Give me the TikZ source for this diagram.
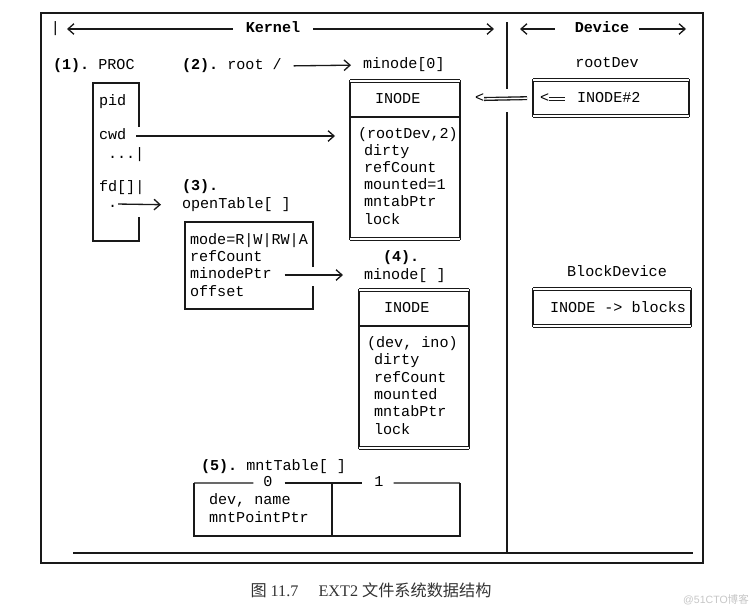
\documentclass[tikz,border=0pt]{standalone}
\usepackage{fontspec}
\setmainfont{Liberation Serif}
\setmonofont{Liberation Mono}
\newfontfamily\cjk{Noto Sans CJK SC}
\newfontfamily\wmsans{Liberation Sans}
\usetikzlibrary{arrows.meta}
\begin{document}
\begin{tikzpicture}[x=0.02cm,y=-0.02cm,
  every node/.style={inner sep=0pt, outer sep=0pt},
  tt/.style={font=\ttfamily\fontsize{8.6}{10}\selectfont, text height=6pt, text depth=2pt, anchor=west, text=black},
  ttb/.style={tt, font=\ttfamily\bfseries\fontsize{8.6}{10}\selectfont},
  ln/.style={line width=0.75pt, draw=black!90},
  asc/.style={ln, -{Straight Barb[length=3.4pt,width=6pt,line width=0.75pt]}},
  dbl/.style={draw=black!90, line width=0.75pt, double=white, double distance=0.8pt},
  boxn/.style={draw=none, anchor=center},
]
\useasboundingbox (0,0) rectangle (750,610);
\fill[white] (0,0) rectangle (750,610);

% outer frame and bottom rule
\draw[ln] (41,13) rectangle (703,563);
\coordinate (bl) at (73,553);
\coordinate (br) at (693,553);
\draw[ln] (bl) -- (br);

% divider
\coordinate (dv1) at (507,22);
\coordinate (dv2) at (507,89);
\coordinate (dv3) at (507,112);
\coordinate (dv4) at (507,553);
\draw[ln] (dv1) -- (dv2);
\draw[ln] (dv3) -- (dv4);

% top bar
\node[tt] (bar) at (51,29) {|};
\node[ttb, anchor=center] (kernel) at (273,29) {Kernel};
\coordinate (kl) at (67,29);
\coordinate (kr) at (494,29);
\draw[asc, shorten <=13*0.02cm] (kernel.west) -- (kl);
\draw[asc, shorten <=13*0.02cm] (kernel.east) -- (kr);
\node[ttb, anchor=center] (device) at (602,29) {Device};
\coordinate (dl) at (520,29);
\coordinate (dr) at (686,29);
\draw[asc, shorten <=20*0.02cm] (device.west) -- (dl);
\draw[asc, shorten <=10*0.02cm] (device.east) -- (dr);

% (1) PROC
\node[tt] (proclbl) at (53,66) {\textbf{(1).} PROC};
\node[boxn, minimum width=0.92cm, minimum height=3.16cm] (proc) at (116,162) {};
\draw[ln] (proc.north east) ++(0,44) -- (proc.north east) -- (proc.north west) -- (proc.south west) -- (proc.south east) -- ++(0,-24);
\node[tt] (pid) at (99,102) {pid};
\node[tt] (cwd) at (99,136) {cwd};
\node[tt] (dots) at (108,155) {...|};
\node[tt] (fd) at (99,188) {fd[]|};
\node[tt] (dot) at (108,204) {.};

% (2) root
\node[tt] (root) at (182,66) {\textbf{(2).} root /};
\node[tt] (mn0lbl) at (363,65) {minode[0]};
\draw[asc, shorten <=12*0.02cm, shorten >=12*0.02cm] (root.east) -- (mn0lbl.west);

% minode[0]
\node[boxn, draw, line width=0.75pt, draw=black!90, minimum width=2.2cm, minimum height=3.16cm] (mn0) at (405,160) {};
\draw[dbl] (mn0.north west) -- (mn0.north east);
\draw[dbl] (mn0.south west) -- (mn0.south east);
\draw[ln] (mn0.north west) ++(0,36) -- ++(110,0);
\node[tt] (mn0h) at (375,100) {INODE};
\node[tt] (m0a) at (358,135) {(rootDev,2)};
\node[tt] (m0b) at (364,152) {dirty};
\node[tt] (m0c) at (364,169) {refCount};
\node[tt] (m0d) at (364,186) {mounted=1};
\node[tt] (m0e) at (364,203) {mntabPtr};
\node[tt] (m0f) at (364,221) {lock};
\draw[asc, shorten <=10*0.02cm, shorten >=15*0.02cm] (cwd.east) -- (cwd.east -| mn0.west);

% rootDev
\node[tt, anchor=center] (rdlbl) at (607,64) {rootDev};
\node[boxn, draw, line width=0.75pt, draw=black!90, minimum width=3.12cm, minimum height=0.72cm] (rd) at (611,98) {};
\draw[dbl] (rd.north west) -- (rd.north east);
\draw[dbl] (rd.south west) -- (rd.south east);
\node[tt] (lt2) at (540,99) {<};
\node[tt] (ino2) at (577,99) {INODE\#2};
\draw[dbl, shorten >=12*0.02cm] (lt2.east) -- (ino2.west);
\node[tt] (lt1) at (475,99) {<};
\draw[dbl, shorten >=6*0.02cm] (lt1.east) -- (rd.west);

% (3) openTable
\node[ttb] (otnum) at (182,187) {(3).};
\node[tt] (otlbl) at (182,205) {openTable[ ]};
\draw[asc, shorten <=1*0.02cm, shorten >=21*0.02cm] (dot.east) -- (otlbl.west);
\node[boxn, minimum width=2.56cm, minimum height=1.74cm] (ot) at (249,265.5) {};
\draw[ln] (ot.north east) ++(0,45) -- (ot.north east) -- (ot.north west) -- (ot.south west) -- (ot.south east) -- ++(0,-23);
\node[tt] (ota) at (190,241) {mode=R|W|RW|A};
\node[tt] (otb) at (190,258) {refCount};
\node[tt] (otc) at (190,275) {minodePtr};
\node[tt] (otd) at (190,293) {offset};

% (4) minode[ ]
\node[ttb] (mnnum) at (383,258) {(4).};
\node[tt] (mnlbl) at (364,276) {minode[ ]};
\draw[asc, shorten <=13*0.02cm, shorten >=21*0.02cm] (otc.east) -- (otc.east -| mnlbl.west);
\node[boxn, draw, line width=0.75pt, draw=black!90, minimum width=2.2cm, minimum height=3.16cm] (mn) at (414,369) {};
\draw[dbl] (mn.north west) -- (mn.north east);
\draw[dbl] (mn.south west) -- (mn.south east);
\draw[ln] (mn.north west) ++(0,36) -- ++(110,0);
\node[tt] (mnh) at (384,309) {INODE};
\node[tt] (m1a) at (367,344) {(dev, ino)};
\node[tt] (m1b) at (374,361) {dirty};
\node[tt] (m1c) at (374,379) {refCount};
\node[tt] (m1d) at (374,396) {mounted};
\node[tt] (m1e) at (374,413) {mntabPtr};
\node[tt] (m1f) at (374,431) {lock};

% BlockDevice
\node[tt, anchor=center] (bdlbl) at (617,273) {BlockDevice};
\node[boxn, draw, line width=0.75pt, draw=black!90, minimum width=3.16cm, minimum height=0.74cm] (bd) at (612,307.5) {};
\draw[dbl] (bd.north west) -- (bd.north east);
\draw[dbl] (bd.south west) -- (bd.south east);
\node[tt] (bdt) at (550,309) {INODE -> blocks};

% (5) mntTable
\node[tt] (mtlbl) at (201,467) {\textbf{(5).} mntTable[ ]};
\node[boxn, minimum width=5.32cm, minimum height=1.06cm] (mt) at (327,509.5) {};
\node[tt, anchor=center] (mt0) at (268,483) {0};
\node[tt, anchor=center] (mt1) at (379,483) {1};
\draw[ln] (mt.north west) -- (mt.south west) -- (mt.south east) -- (mt.north east);
\draw[ln] (mt.north west) -- ([xshift=-10*0.02cm]mt0.west);
\draw[ln] ([xshift=12*0.02cm]mt0.east) -- ([xshift=-12*0.02cm]mt1.west);
\draw[ln] ([xshift=10*0.02cm]mt1.east) -- (mt.north east);
\draw[ln] (mt.north) ++(5,0) -- ++(0,53);
\node[tt] (mta) at (209,501) {dev, name};
\node[tt] (mtb) at (209,519) {mntPointPtr};

% caption and watermark
\node[text=black!80, anchor=center] (cap) at (371,590) {\fontsize{9.2}{11}\selectfont{\cjk 图}\ 11.7\quad\ EXT2\ {\cjk 文件系统数据结构}};
\node[text=black!22, anchor=center] (wm) at (716,600) {\fontsize{6}{7}\selectfont\wmsans @51CTO{\cjk 博客}};
\end{tikzpicture}
\end{document}
